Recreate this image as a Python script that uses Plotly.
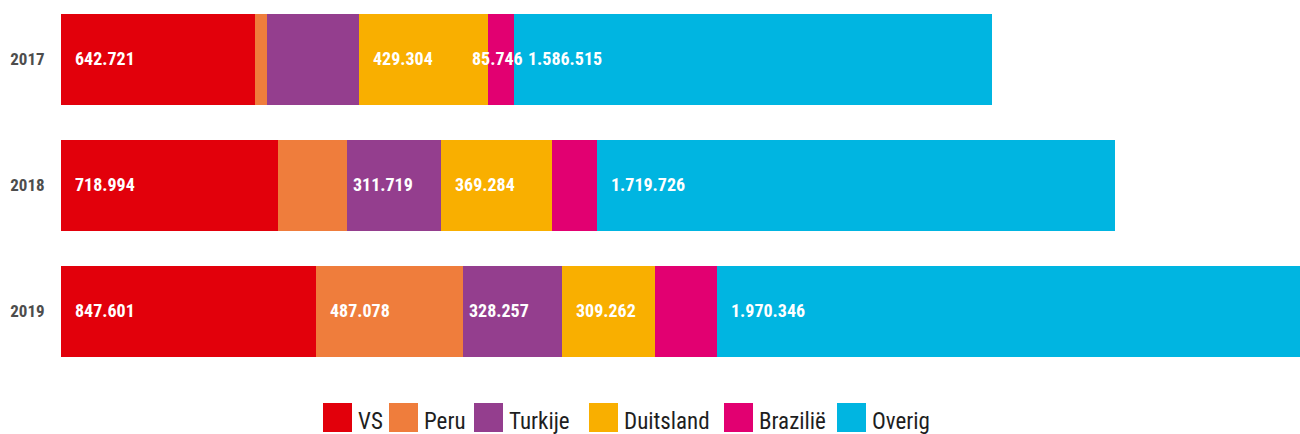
import plotly.graph_objects as go

# Export volumes per destination, per year (labels read "." as thousands separator)
years = ["2017", "2018", "2019"]
countries = ["VS", "Peru", "Turkije", "Duitsland", "Brazilië", "Overig"]

vs = [642721, 718994, 847601]
peru = [39800, 230000, 487078]
turkije = [306800, 311719, 328257]
duitsland = [429304, 369284, 309262]
brazilie = [85746, 150000, 205700]
overig = [1586515, 1719726, 1970346]

# segments that carry a value label (per year)
labelled_vs = [True, True, True]
labelled_peru = [False, False, True]
labelled_turkije = [False, True, True]
labelled_duitsland = [True, True, True]
labelled_brazilie = [True, False, False]
labelled_overig = [True, True, True]

series = [vs, peru, turkije, duitsland, brazilie, overig]
labelled = [labelled_vs, labelled_peru, labelled_turkije,
            labelled_duitsland, labelled_brazilie, labelled_overig]

colors = ["#e2000b", "#ef7d3c", "#943e8e", "#f9af00", "#e20071", "#00b5e1"]
label_pad = [12, 12, 4, 12, 12, 12]

W, H = 1300, 434
M_L, M_R, M_T, M_B = 61, 0, 0, 56
plot_w = W - M_L - M_R
plot_h = H - M_T - M_B
units_per_px = 3320
x_max = plot_w * units_per_px

LABEL_FONT = "Roboto Condensed, Roboto, Liberation Sans, sans-serif"


def nl(v):
    return f"{v:,}".replace(",", ".")


fig = go.Figure()
for name, vals, col in zip(countries, series, colors):
    fig.add_trace(go.Bar(
        y=years, x=vals, name=name, orientation="h",
        marker=dict(color=col, line=dict(width=0)),
        showlegend=False, hoverinfo="x+name",
    ))

# value labels, placed at the left edge of each segment
# (segments too narrow for their label get it centred instead)
annotations = []
for yi, yr in enumerate(years):
    start = 0
    for si, vals in enumerate(series):
        v = vals[yi]
        if labelled[si][yi]:
            seg_px = v / units_per_px
            if seg_px < 60:
                ax_x, anchor, shift = start + v / 2, "center", -4
            else:
                ax_x, anchor, shift = start, "left", label_pad[si]
            annotations.append(dict(
                x=ax_x, y=yi, xref="x", yref="y",
                text="<b>" + nl(v) + "</b>", showarrow=False,
                xanchor=anchor, yanchor="middle", xshift=shift, yshift=1,
                font=dict(family=LABEL_FONT, size=18, color="white"),
            ))
        start += v

# legend row drawn below the bars
legend_px = [323, 389, 474, 589, 724, 837]
sq = 29
sq_top = 403
shapes = []
for name, col, px in zip(countries, colors, legend_px):
    x0 = (px - M_L) / plot_w
    x1 = (px + sq - M_L) / plot_w
    y0 = (plot_h - (sq_top + sq)) / plot_h
    y1 = (plot_h - sq_top) / plot_h
    shapes.append(dict(type="rect", xref="paper", yref="paper",
                       x0=x0, x1=x1, y0=y0, y1=y1,
                       fillcolor=col, line=dict(width=0)))
    annotations.append(dict(
        x=(px + sq + 4 - M_L) / plot_w, y=(plot_h - 421) / plot_h,
        xref="paper", yref="paper", text=name, showarrow=False,
        xanchor="left", yanchor="middle",
        font=dict(family=LABEL_FONT, size=23, color="#1e1e1e"),
    ))

fig.update_layout(
    width=W, height=H,
    margin=dict(l=M_L, r=M_R, t=M_T, b=M_B, autoexpand=False),
    barmode="stack", bargap=0.278,
    paper_bgcolor="white", plot_bgcolor="white",
    xaxis=dict(range=[0, x_max], visible=False, fixedrange=True),
    yaxis=dict(type="category", categoryarray=years, automargin=False,
               range=[2.528, -0.472], showgrid=False, zeroline=False,
               showline=False, ticks="outside", ticklen=12,
               tickcolor="rgba(0,0,0,0)",
               tickprefix="<b>", ticksuffix="</b>",
               tickfont=dict(family=LABEL_FONT, size=17, color="#4d4d4d")),
    annotations=annotations,
    shapes=shapes,
    showlegend=False,
)

fig.write_html("out.html")
